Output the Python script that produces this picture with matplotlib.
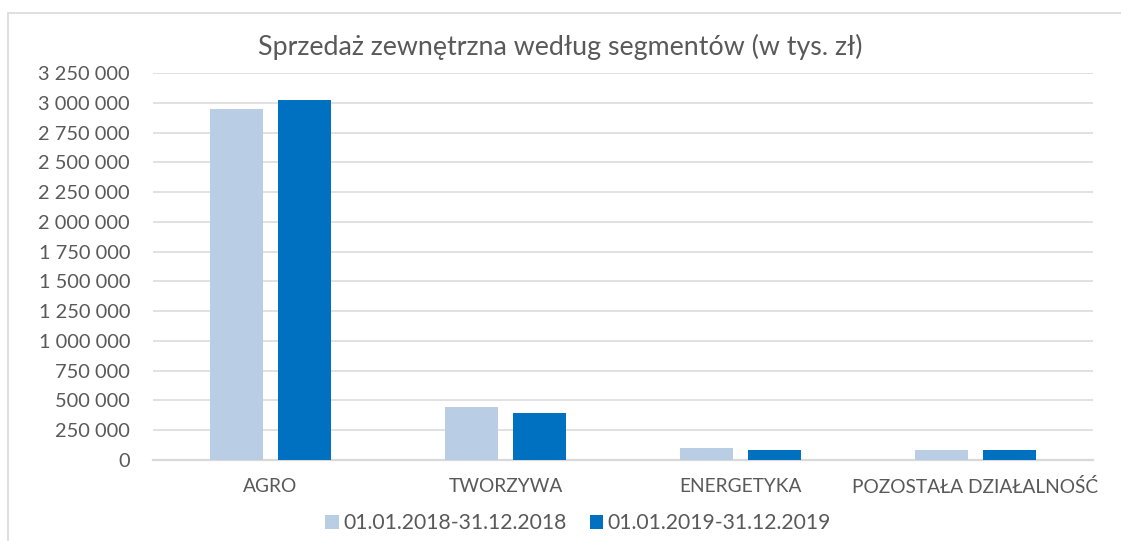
import numpy as np
import matplotlib
matplotlib.use('Agg')
import matplotlib.pyplot as plt
from matplotlib.patches import Rectangle
from matplotlib.ticker import FuncFormatter

# Data (w tys. zł)
segments = ['AGRO', 'TWORZYWA', 'ENERGETYKA', 'POZOSTAŁA DZIAŁALNOŚĆ']
sales_2018 = [2945000, 447000, 101000, 86000]
sales_2019 = [3023000, 395000, 82000, 84000]
series_labels = ['01.01.2018-31.12.2018', '01.01.2019-31.12.2019']
yticks = list(range(0, 3250001, 250000))

plt.rcParams['font.family'] = ['Lato', 'DejaVu Sans']
text_col = '#595959'
grid_col = '#D9D9D9'

fig = plt.figure(figsize=(11.21, 5.41), dpi=100)
ax = fig.add_axes([153 / 1121, 1 - 460 / 541, 940 / 1121, 387 / 541])

# outer chart border (left and top visible)
fig.patches.append(Rectangle((8 / 1121, -0.1), 1.2, 1 - 13 / 541 + 0.1,
                             transform=fig.transFigure, fill=False,
                             edgecolor=grid_col, linewidth=1.2))

x = np.arange(len(segments))
w = 0.226
off = 0.145
ax.bar(x - off, sales_2018, w, color='#B9CDE5', label=series_labels[0], zorder=3)
ax.bar(x + off, sales_2019, w, color='#0070C0', label=series_labels[1], zorder=3)

ax.set_xlim(-0.5, len(segments) - 0.5)
ax.set_ylim(0, 3250000)
ax.set_yticks(yticks)
ax.yaxis.set_major_formatter(FuncFormatter(lambda v, p: f'{int(v):,}'.replace(',', ' ')))
ax.set_xticks(x)
ax.set_xticklabels(segments)
ax.grid(axis='y', color=grid_col, linewidth=1.1, zorder=0)
for s in ['top', 'right', 'left']:
    ax.spines[s].set_visible(False)
ax.spines['bottom'].set_color(grid_col)
ax.spines['bottom'].set_linewidth(1.6)
ax.tick_params(axis='y', length=0, labelsize=14.4, colors=text_col, pad=16.5)
ax.tick_params(axis='x', length=0, labelsize=13.8, colors=text_col, pad=13)

fig.text(0.5, 1 - 47 / 541, 'Sprzedaż zewnętrzna według segmentów (w tys. zł)',
         ha='center', va='center', fontsize=19.3, color=text_col)

leg = fig.legend(loc='center', bbox_to_anchor=(578 / 1121, 1 - 523 / 541), ncol=2,
                 frameon=False, fontsize=15.2, handlelength=0.65, handleheight=0.65,
                 handletextpad=0.2, columnspacing=1.1)
for t in leg.get_texts():
    t.set_color(text_col)

fig.savefig('out.png', dpi=100)
